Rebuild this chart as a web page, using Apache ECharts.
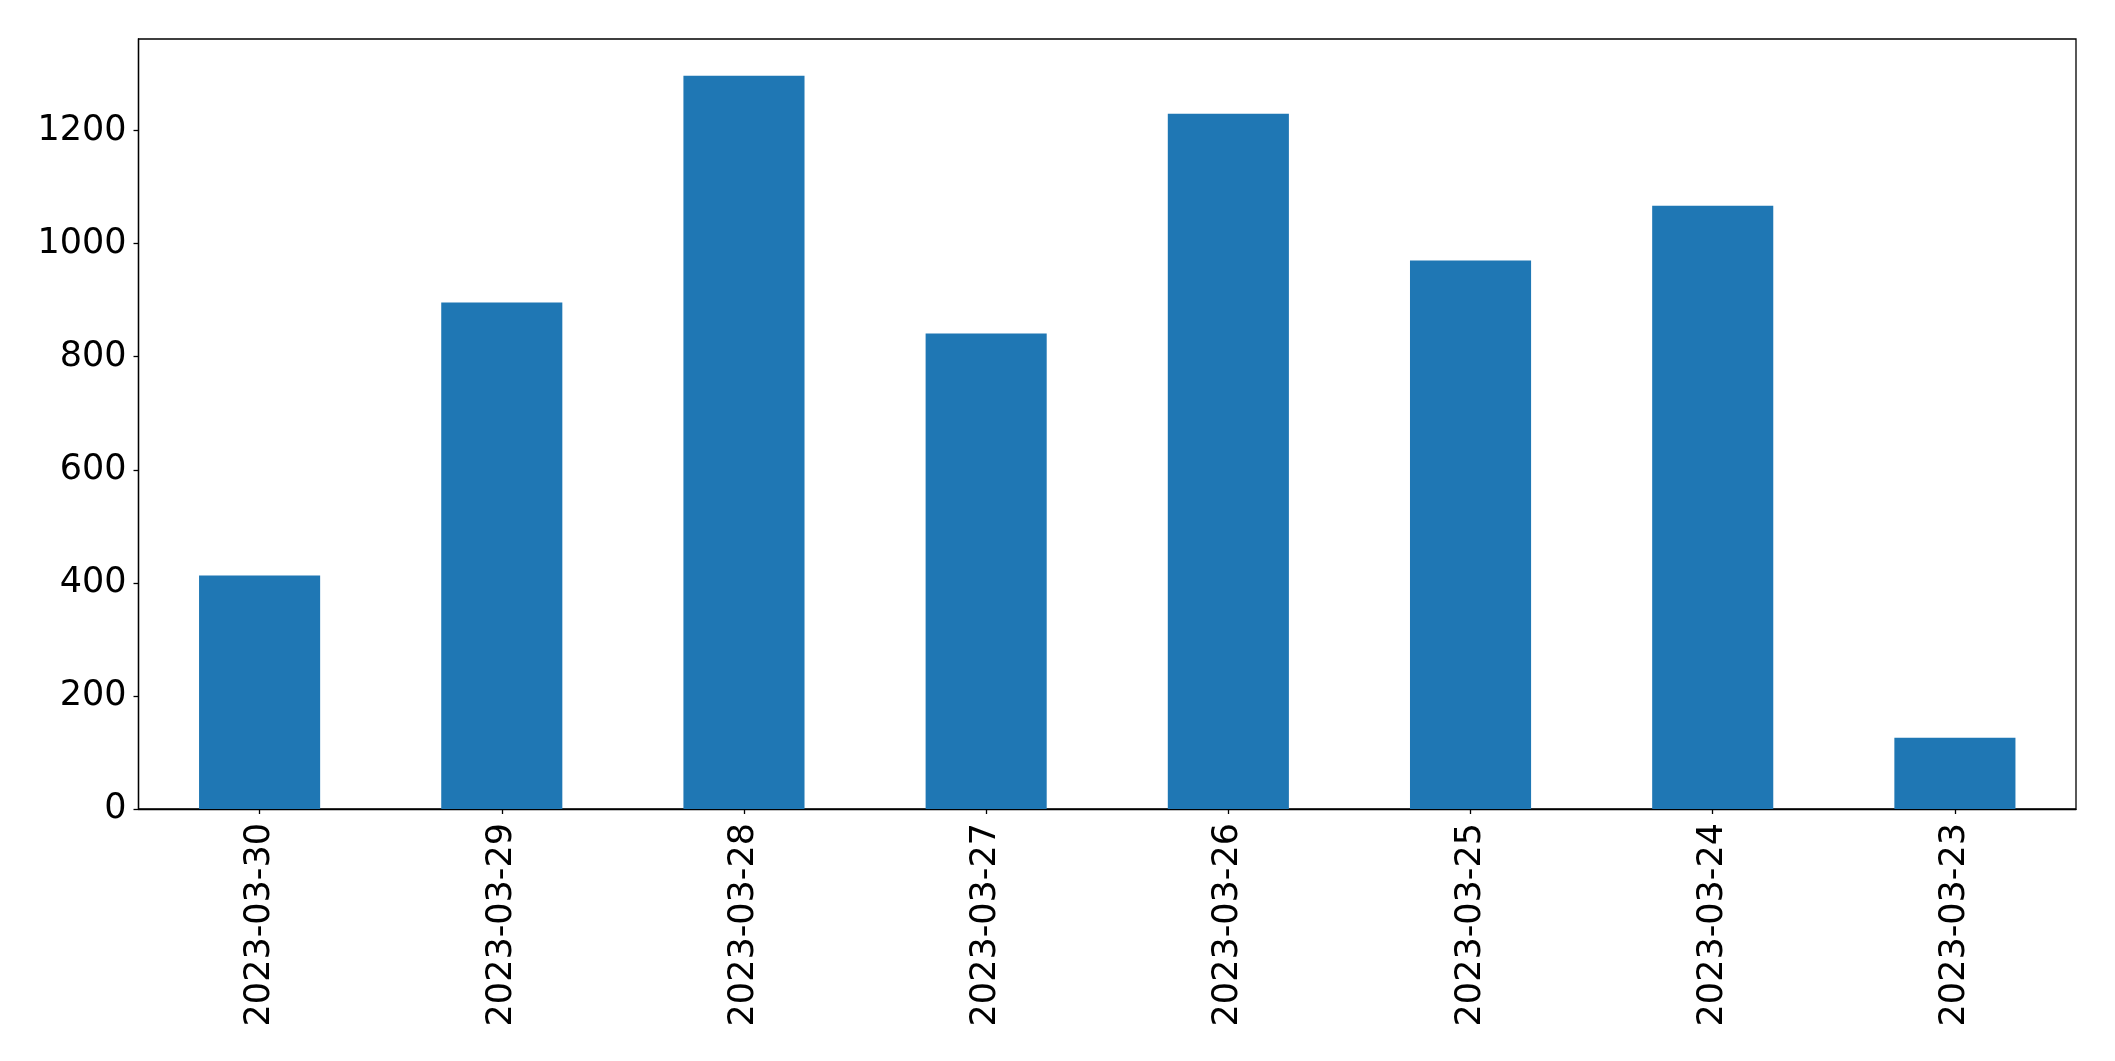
<!DOCTYPE html>
<html>
<head>
<meta charset="utf-8">
<script src="https://cdn.jsdelivr.net/npm/echarts@6/dist/echarts.min.js"></script>
<style>
html,body{margin:0;padding:0;background:#fff;}
#chart{width:2115px;height:1061px;}
</style>
</head>
<body>
<div id="chart"></div>
<script>
const categories = ['2023-03-30','2023-03-29','2023-03-28','2023-03-27','2023-03-26','2023-03-25','2023-03-24','2023-03-23'];
const values = [413, 896, 1297, 841, 1230, 970, 1067, 126];
const yTicks = [0, 200, 400, 600, 800, 1000, 1200];

const chart = echarts.init(document.getElementById('chart'), null, {renderer:'canvas'});
const font = 'DejaVu Sans';
chart.setOption({
  animation: false,
  backgroundColor: '#ffffff',
  grid: {left: 138.5, right: 39, top: 39, bottom: 252, show: true, borderColor: '#000', borderWidth: 1.3, containLabel: false},
  xAxis: {
    type: 'category',
    data: categories,
    boundaryGap: true,
    axisLine: {show: true, lineStyle: {color: '#000', width: 1.3}},
    axisTick: {show: true, alignWithLabel: true, length: 5, lineStyle: {color: '#000', width: 1.3}},
    axisLabel: {rotate: 90, margin: 14, color: '#000', fontFamily: font, fontSize: 35, interval: 0},
    splitLine: {show: false}
  },
  yAxis: {
    type: 'value',
    min: 0,
    max: 1362,
    interval: 200,
    axisLine: {show: true, lineStyle: {color: '#000', width: 1.3}},
    axisTick: {show: true, length: 5, customValues: yTicks, lineStyle: {color: '#000', width: 1.3}},
    axisLabel: {margin: 12, color: '#000', fontFamily: font, fontSize: 35, customValues: yTicks,
      formatter: function(v){ return yTicks.indexOf(v) >= 0 ? String(v) : ''; }},
    splitLine: {show: false}
  },
  series: [{
    type: 'bar',
    data: values,
    barWidth: '50%',
    itemStyle: {color: '#1f77b4'}
  }]
});
</script>
</body>
</html>
